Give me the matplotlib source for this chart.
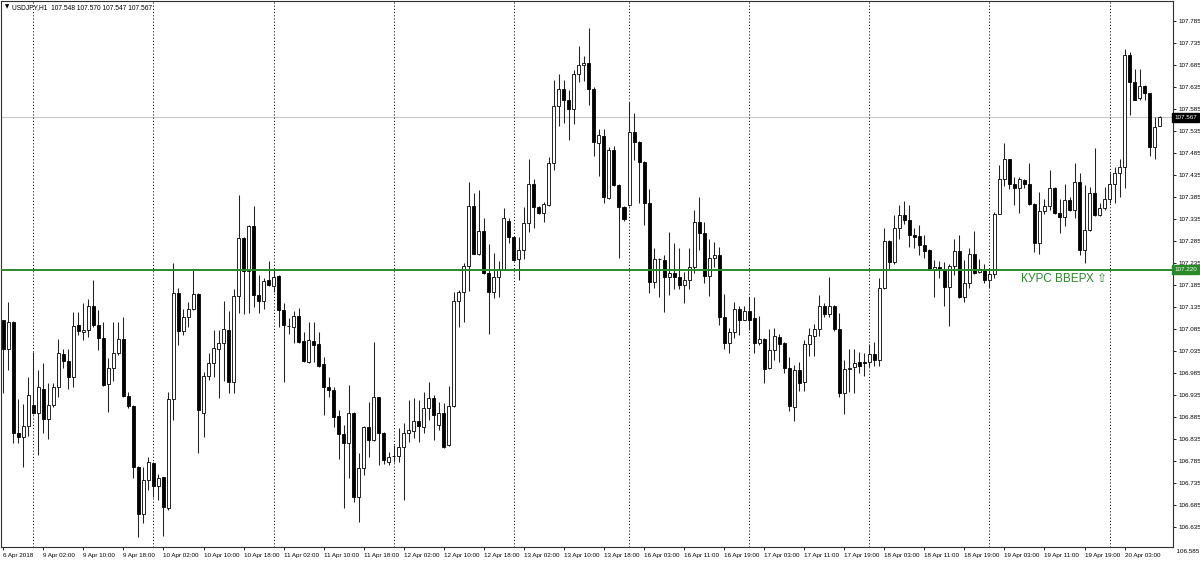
import matplotlib
matplotlib.use('Agg')
import matplotlib.pyplot as plt
import matplotlib.transforms as mtransforms
from matplotlib import font_manager
import numpy as np
import pandas as pd

# ==========================
# USDJPY H1 - свечной график в стиле MT4
# ==========================

SYMBOL = 'USDJPY,H1'
LEVEL = 107.220
LEVEL_TEXT = 'КУРС ВВЕРХ ⇧'

# торговые сессии: начало и число часовых баров
session_start = ['2018-04-06 18:00', '2018-04-09 00:00', '2018-04-10 00:00', '2018-04-11 00:00',
                 '2018-04-12 00:00', '2018-04-13 00:00', '2018-04-16 00:00', '2018-04-17 00:00',
                 '2018-04-18 00:00', '2018-04-19 00:00', '2018-04-20 00:00']
session_bars = [6, 24, 24, 24, 24, 23, 24, 24, 24, 24, 11]

opens = [
    107.106, 107.039, 107.102, 106.848, 106.839, 106.865,
    106.913, 106.895, 106.950, 106.880, 106.913, 106.953, 107.028, 107.013, 106.976, 107.094, 107.079, 107.083,
    107.138, 107.094, 107.064, 106.960, 106.996, 107.030, 107.062, 106.933, 106.911, 106.772, 106.666, 106.742,
    106.781, 106.728, 106.748, 106.678, 106.926, 107.168, 107.081, 107.112, 107.132, 107.166, 106.894, 106.978,
    107.009, 107.041, 107.053, 107.083, 106.966, 107.161, 107.293, 107.218, 107.319, 107.163, 107.150, 107.198,
    107.183, 107.206, 107.128, 107.093, 107.090, 107.115, 107.058, 107.011, 107.058, 107.051, 107.005, 106.954,
    106.948, 106.888, 106.847, 106.827, 106.894, 106.704, 106.769, 106.863, 106.833, 106.930, 106.850, 106.784,
    106.797, 106.797, 106.818, 106.848, 106.854, 106.876, 106.863, 106.905, 106.928, 106.867, 106.894, 106.822,
    106.910, 107.149, 107.170, 107.228, 107.366, 107.257, 107.309, 107.212, 107.170, 107.204, 107.221, 107.331,
    107.295, 107.244, 107.265, 107.326, 107.414, 107.362, 107.350, 107.367, 107.463, 107.592, 107.630, 107.606,
    107.585, 107.666, 107.685, 107.689, 107.630, 107.509, 107.524, 107.384, 107.492, 107.413, 107.362,
    107.367, 107.534, 107.511, 107.466, 107.372, 107.193, 107.244, 107.242, 107.203, 107.212, 107.203, 107.185,
    107.197, 107.226, 107.329, 107.303, 107.206, 107.248, 107.254, 107.112, 107.053, 107.079, 107.130, 107.107,
    107.127, 107.110, 107.054, 107.062, 106.996, 107.038, 107.068, 107.053, 106.998, 106.909, 106.992, 106.966,
    107.051, 107.069, 107.085, 107.138, 107.119, 107.138, 107.085, 106.939, 106.994, 107.000, 107.010, 107.010,
    107.010, 107.028, 107.016, 107.178, 107.286, 107.238, 107.314, 107.344, 107.333, 107.299, 107.297, 107.276,
    107.265, 107.221, 107.226, 107.219, 107.180, 107.228, 107.263, 107.159, 107.191, 107.256, 107.216, 107.219,
    107.198, 107.210, 107.348, 107.426, 107.471, 107.415, 107.405, 107.424, 107.416, 107.369, 107.280, 107.353,
    107.365, 107.407, 107.350, 107.341, 107.379, 107.357, 107.420, 107.265, 107.310, 107.394, 107.344, 107.360,
    107.382, 107.415, 107.439, 107.453, 107.708, 107.647, 107.610, 107.638, 107.621, 107.500, 107.548,
]
highs = [
    107.106, 107.147, 107.104, 106.926, 106.915, 106.976,
    107.034, 106.992, 107.009, 106.962, 106.962, 107.062, 107.041, 107.039, 107.125, 107.124, 107.145, 107.153,
    107.197, 107.129, 107.102, 107.019, 107.102, 107.102, 107.113, 106.943, 106.913, 106.774, 106.772, 106.795,
    106.783, 106.757, 106.750, 106.943, 107.236, 107.178, 107.132, 107.147, 107.223, 107.168, 106.987, 107.031,
    107.083, 107.083, 107.150, 107.127, 107.176, 107.391, 107.295, 107.322, 107.365, 107.208, 107.201, 107.240,
    107.221, 107.208, 107.144, 107.110, 107.127, 107.134, 107.079, 107.102, 107.102, 107.079, 107.022, 106.977,
    106.954, 106.901, 106.867, 106.958, 106.896, 106.804, 106.865, 106.920, 107.056, 106.932, 106.852, 106.806,
    106.822, 106.860, 106.871, 106.924, 106.928, 106.924, 106.943, 106.966, 106.935, 106.920, 106.918, 106.956,
    107.170, 107.174, 107.235, 107.419, 107.395, 107.401, 107.338, 107.278, 107.259, 107.240, 107.360, 107.337,
    107.297, 107.295, 107.362, 107.472, 107.426, 107.364, 107.375, 107.477, 107.651, 107.666, 107.651, 107.629,
    107.674, 107.729, 107.706, 107.769, 107.636, 107.541, 107.541, 107.500, 107.501, 107.415, 107.364,
    107.602, 107.577, 107.513, 107.468, 107.403, 107.269, 107.248, 107.253, 107.306, 107.281, 107.269, 107.216,
    107.269, 107.356, 107.385, 107.329, 107.291, 107.284, 107.272, 107.166, 107.087, 107.147, 107.138, 107.138,
    107.159, 107.159, 107.115, 107.064, 107.085, 107.088, 107.075, 107.056, 107.021, 107.003, 107.011, 107.060,
    107.087, 107.098, 107.163, 107.145, 107.204, 107.140, 107.121, 107.015, 107.041, 107.039, 107.034, 107.030,
    107.051, 107.056, 107.201, 107.314, 107.288, 107.344, 107.367, 107.377, 107.367, 107.314, 107.322, 107.299,
    107.267, 107.242, 107.240, 107.238, 107.233, 107.289, 107.299, 107.242, 107.269, 107.309, 107.244, 107.233,
    107.219, 107.352, 107.458, 107.509, 107.473, 107.430, 107.430, 107.426, 107.463, 107.371, 107.397, 107.380,
    107.447, 107.409, 107.380, 107.415, 107.386, 107.462, 107.439, 107.413, 107.409, 107.498, 107.371, 107.409,
    107.439, 107.453, 107.471, 107.721, 107.716, 107.676, 107.676, 107.640, 107.623, 107.568, 107.570,
]
lows = [
    106.939, 106.992, 106.827, 106.827, 106.772, 106.842,
    106.893, 106.800, 106.850, 106.835, 106.908, 106.931, 106.996, 106.950, 106.953, 107.072, 107.060, 107.068,
    107.090, 107.038, 106.956, 106.896, 106.968, 107.026, 106.931, 106.905, 106.746, 106.613, 106.644, 106.719,
    106.704, 106.697, 106.615, 106.674, 106.878, 107.049, 107.072, 107.090, 107.128, 106.803, 106.839, 106.969,
    106.977, 106.928, 106.967, 106.939, 106.939, 107.122, 107.119, 107.121, 107.136, 107.121, 107.132, 107.183,
    107.169, 107.090, 106.966, 107.074, 107.053, 107.054, 107.011, 107.009, 107.011, 107.000, 106.890, 106.931,
    106.863, 106.791, 106.678, 106.746, 106.693, 106.647, 106.753, 106.795, 106.831, 106.776, 106.778, 106.776,
    106.784, 106.784, 106.697, 106.829, 106.837, 106.829, 106.848, 106.878, 106.833, 106.856, 106.816, 106.819,
    106.908, 107.090, 107.102, 107.172, 107.255, 107.253, 107.210, 107.075, 107.157, 107.159, 107.219, 107.281,
    107.240, 107.198, 107.244, 107.306, 107.314, 107.348, 107.328, 107.365, 107.448, 107.547, 107.553, 107.516,
    107.551, 107.647, 107.650, 107.594, 107.478, 107.433, 107.371, 107.381, 107.411, 107.248, 107.331,
    107.365, 107.469, 107.372, 107.322, 107.168, 107.178, 107.159, 107.125, 107.163, 107.176, 107.176, 107.145,
    107.176, 107.212, 107.265, 107.189, 107.160, 107.227, 107.094, 107.041, 107.030, 107.064, 107.072, 107.105,
    107.083, 107.030, 107.049, 106.962, 106.994, 107.016, 107.011, 106.985, 106.900, 106.877, 106.944, 106.945,
    107.024, 107.024, 107.069, 107.113, 107.113, 107.082, 106.930, 106.892, 106.943, 106.939, 106.985, 106.978,
    107.000, 107.001, 107.001, 107.176, 107.223, 107.233, 107.291, 107.324, 107.272, 107.269, 107.253, 107.247,
    107.219, 107.159, 107.201, 107.138, 107.092, 107.208, 107.157, 107.147, 107.178, 107.211, 107.212, 107.189,
    107.178, 107.201, 107.346, 107.410, 107.403, 107.367, 107.350, 107.405, 107.367, 107.261, 107.257, 107.348,
    107.356, 107.348, 107.304, 107.319, 107.354, 107.337, 107.253, 107.235, 107.308, 107.342, 107.342, 107.356,
    107.371, 107.371, 107.386, 107.407, 107.572, 107.605, 107.607, 107.607, 107.478, 107.471, 107.547,
]
closes = [
    107.039, 107.102, 106.848, 106.839, 106.865, 106.935,
    106.895, 106.953, 106.880, 106.913, 106.953, 107.030, 107.013, 106.976, 107.093, 107.081, 107.083, 107.138,
    107.094, 107.064, 106.958, 106.996, 107.030, 107.062, 106.933, 106.910, 106.772, 106.666, 106.742, 106.784,
    106.728, 106.746, 106.681, 106.926, 107.168, 107.081, 107.112, 107.132, 107.166, 106.901, 106.978, 107.009,
    107.043, 107.053, 107.085, 106.966, 107.161, 107.293, 107.218, 107.319, 107.163, 107.150, 107.195, 107.185,
    107.204, 107.128, 107.094, 107.092, 107.115, 107.056, 107.013, 107.060, 107.049, 107.002, 106.953, 106.947,
    106.886, 106.847, 106.827, 106.894, 106.704, 106.769, 106.863, 106.833, 106.930, 106.848, 106.788, 106.795,
    106.796, 106.818, 106.848, 106.856, 106.876, 106.865, 106.905, 106.928, 106.890, 106.894, 106.818, 106.910,
    107.149, 107.170, 107.228, 107.366, 107.257, 107.309, 107.212, 107.170, 107.204, 107.221, 107.337, 107.295,
    107.242, 107.265, 107.327, 107.414, 107.363, 107.350, 107.369, 107.462, 107.592, 107.632, 107.606, 107.585,
    107.666, 107.685, 107.691, 107.630, 107.511, 107.526, 107.386, 107.492, 107.413, 107.362, 107.335,
    107.534, 107.511, 107.466, 107.372, 107.193, 107.244, 107.245, 107.203, 107.213, 107.203, 107.185, 107.197,
    107.226, 107.329, 107.303, 107.206, 107.248, 107.254, 107.112, 107.053, 107.079, 107.130, 107.107, 107.127,
    107.107, 107.054, 107.062, 106.994, 107.038, 107.069, 107.051, 106.998, 106.910, 106.992, 106.963, 107.051,
    107.072, 107.085, 107.138, 107.119, 107.138, 107.085, 106.939, 106.994, 106.998, 107.009, 107.002, 107.009,
    107.028, 107.016, 107.178, 107.286, 107.238, 107.316, 107.344, 107.333, 107.299, 107.295, 107.276, 107.263,
    107.221, 107.226, 107.219, 107.180, 107.228, 107.263, 107.159, 107.191, 107.256, 107.213, 107.221, 107.198,
    107.210, 107.348, 107.426, 107.471, 107.415, 107.405, 107.426, 107.415, 107.369, 107.280, 107.353, 107.365,
    107.407, 107.350, 107.341, 107.379, 107.357, 107.420, 107.265, 107.310, 107.394, 107.344, 107.360, 107.382,
    107.415, 107.439, 107.454, 107.708, 107.647, 107.607, 107.638, 107.621, 107.500, 107.545, 107.567,
]

times = pd.DatetimeIndex(np.concatenate([
    pd.date_range(s, periods=n, freq='h').values for s, n in zip(session_start, session_bars)]))

o = np.array(opens)
h = np.array(highs)
l = np.array(lows)
c = np.array(closes)
x = np.arange(len(o))

# узкий шрифт для подписей осей, если есть
available = {f.name for f in font_manager.fontManager.ttflist}
small_font = 'Liberation Sans Narrow' if 'Liberation Sans Narrow' in available else 'Liberation Sans'
small = 4.5

fig = plt.figure(figsize=(12, 5.63), dpi=100)
ax = fig.add_axes([0.0008, 0.0284, 0.9767, 0.9698])
ax.set_xlim(-0.46, 233.67)
ax.set_ylim(106.590, 107.831)

# разделители дней
new_day = np.flatnonzero(times.normalize()[1:] != times.normalize()[:-1]) + 1
for i in new_day:
    ax.axvline(x[i], color='black', lw=0.72, ls=(0, (1, 2.2)), zorder=1)

# свечи
up = c >= o
ax.vlines(x, l, h, color='#222222', lw=0.75, zorder=2)
ax.bar(x, np.abs(c - o), bottom=np.minimum(o, c), width=0.6,
       color=np.where(up, 'white', 'black'), edgecolor='black', lw=0.6, zorder=3)

# линия текущей цены и уровень
ax.axhline(c[-1], color='#c8c8c8', lw=0.8, zorder=0)
ax.axhline(LEVEL, color='#2a8a2a', lw=1.4, zorder=4)
ax.text(203.3, LEVEL - 0.007, LEVEL_TEXT, color='#2a8a2a', fontsize=8.5,
        family=['Liberation Sans', 'DejaVu Sans'], va='top', ha='left', zorder=5)

# оси
for sp in ax.spines.values():
    sp.set_color('#303030')
    sp.set_linewidth(0.8)

ax.yaxis.tick_right()
yt = np.round(np.arange(106.635, 107.79, 0.05), 3)
ax.set_yticks(yt)
ax.set_yticklabels([f'{v:.3f}' for v in yt], family=small_font, fontsize=small)
ax.tick_params(axis='y', direction='out', length=2.5, width=0.6, pad=1.2, colors='black')
ax.text(1.0, -0.004, '  106.585', transform=ax.transAxes, va='top', ha='left',
        family=small_font, fontsize=small)

tick_idx = np.arange(0, len(times), 8)
xlabels = []
for k in tick_idx:
    t = times[k]
    if k == 0:
        xlabels.append(f'{t.day} {t:%b %Y}')
    else:
        xlabels.append(f'{t.day} {t:%b %H:%M}')
ax.set_xticks(tick_idx)
ax.set_xticklabels(xlabels, family=small_font, fontsize=small, ha='left')
ax.tick_params(axis='x', direction='out', length=2.5, width=0.6, pad=1.5, colors='black')

# ценовые метки на правой шкале
trans = mtransforms.blended_transform_factory(ax.transAxes, ax.transData)
ax.text(1.001, c[-1], f'{c[-1]:.3f}', transform=trans, va='center', ha='left', color='white',
        family=small_font, fontsize=small,
        bbox=dict(boxstyle='square,pad=0.3', fc='black', ec='black'))
ax.text(1.001, LEVEL, f'{LEVEL:.3f}', transform=trans, va='center', ha='left', color='white',
        family=small_font, fontsize=small,
        bbox=dict(boxstyle='square,pad=0.3', fc='#2a8a2a', ec='#2a8a2a'))

# заголовок окна
ax.text(0.0035, 0.994, '▼', transform=ax.transAxes, va='top', ha='left', fontsize=4,
        family='DejaVu Sans')
ax.text(0.0095, 0.994, f'{SYMBOL}  {o[-1]:.3f} {h[-1]:.3f} {l[-1]:.3f} {c[-1]:.3f}',
        transform=ax.transAxes, va='top', ha='left', family=small_font, fontsize=small + 0.3)

fig.savefig('out.png', dpi=100, facecolor='white')
